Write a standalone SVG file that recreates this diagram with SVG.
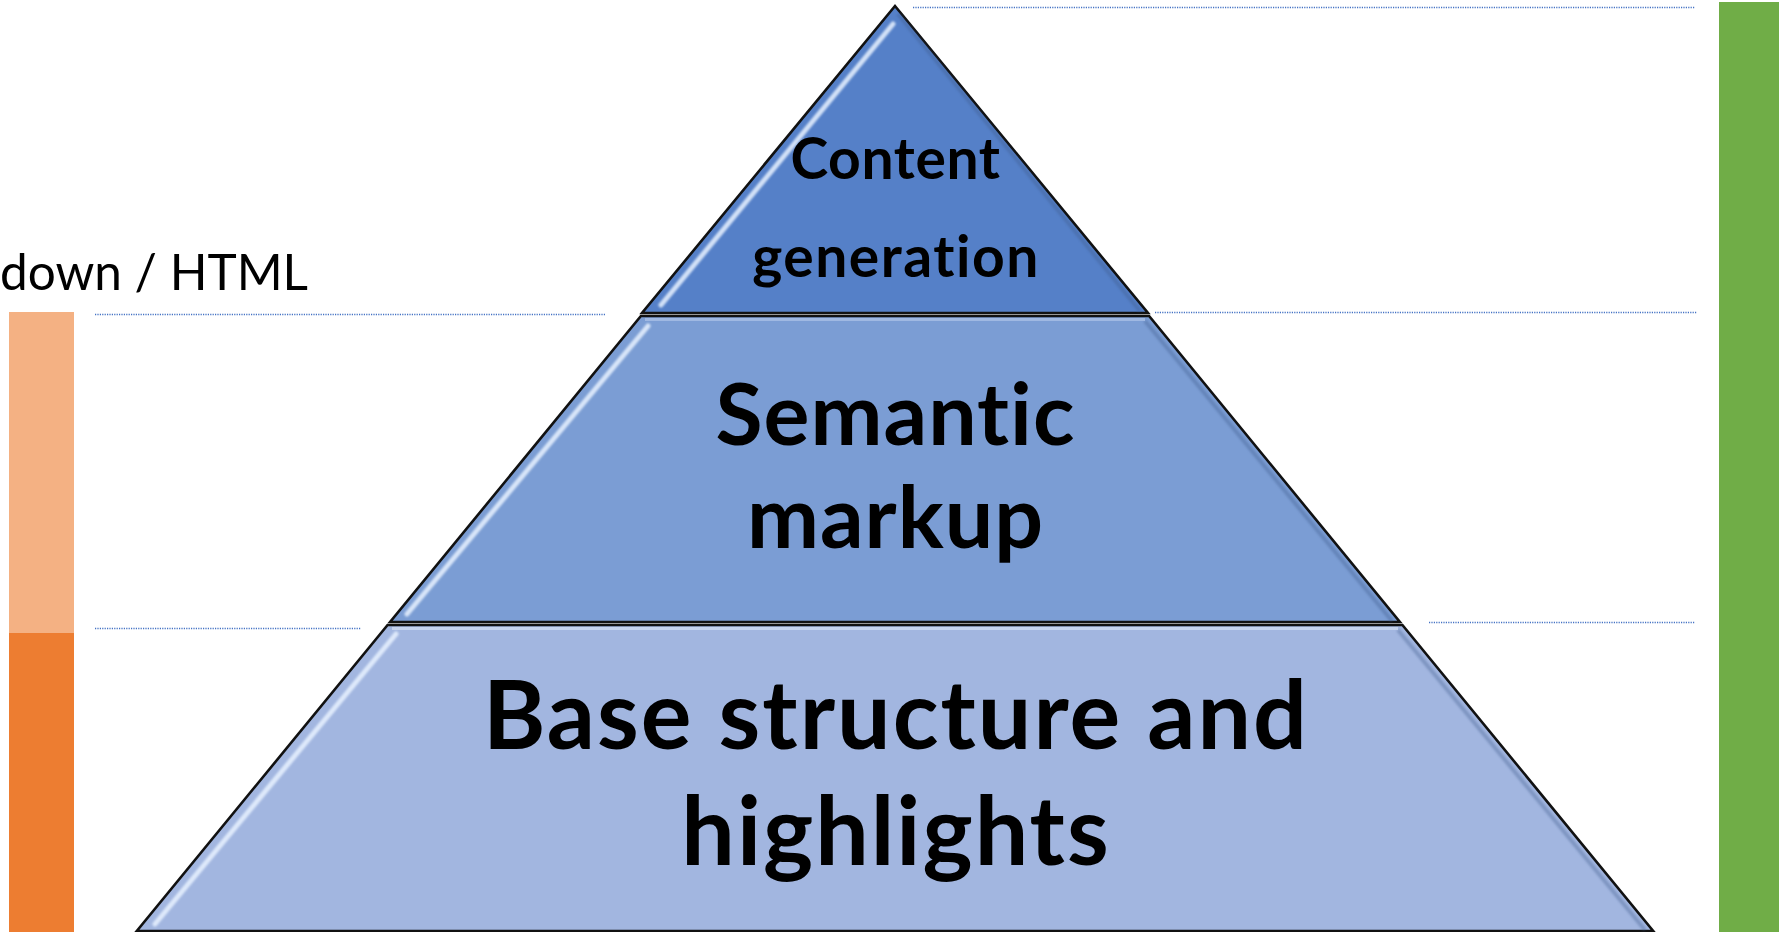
<svg xmlns="http://www.w3.org/2000/svg" width="1779" height="932" viewBox="0 0 1779 932">
<defs>
<filter id="soft" x="-10%" y="-10%" width="120%" height="120%"><feGaussianBlur stdDeviation="0.9"/></filter>
</defs>
<style>
.tier{stroke:#111;stroke-width:2.6;stroke-linejoin:miter}
.hl{stroke:#E8F2FF;stroke-width:5;stroke-linecap:round;fill:none;opacity:0.85;filter:url(#soft)}
.sh{stroke:#3D5A8A;stroke-width:4;fill:none;opacity:0.35;filter:url(#soft)}
.lbl{font-family:Lato,"Open Sans","Liberation Sans",sans-serif;font-weight:bold;fill:#000;text-anchor:middle;font-variant-ligatures:none;font-feature-settings:"liga" 0}
.guide{stroke:#4472C4;stroke-width:1.3;stroke-dasharray:1.2 1.2;fill:none}
</style>
<rect width="1779" height="932" fill="#fff"/>
<g id="side-bars">
<rect x="9" y="312" width="65" height="321" fill="#F4B183"/>
<rect x="9" y="633" width="65" height="299" fill="#ED7D31"/>
<rect x="1719" y="2" width="60" height="930" fill="#70AD47"/>
</g>
<text x="0" y="290" font-family="Lato,'Open Sans','Liberation Sans',sans-serif" font-size="49.5" fill="#000">down / HTML</text>
<g id="connectors">
<line class="guide" x1="913" y1="7.5" x2="1695" y2="7.5"/>
<line class="guide" x1="1155" y1="312.5" x2="1697" y2="312.5"/>
<line class="guide" x1="1429" y1="622.5" x2="1695" y2="622.5"/>
<line class="guide" x1="95" y1="314.5" x2="605" y2="314.5"/>
<line class="guide" x1="95" y1="628.5" x2="361" y2="628.5"/>
</g>
<g id="tier-base">
<polygon class="tier" points="387.6,625 1402.4,625 1653.2,931 136.8,931" fill="#A2B6E0"/>
<line class="sh" x1="1398" y1="630" x2="1645" y2="930"/>
<line x1="392" y1="628.5" x2="1398" y2="628.5" stroke="#C5D3EE" stroke-width="3"/>
<line class="hl" x1="396" y1="634" x2="155" y2="924"/>
<text class="lbl" x="896" y="749" font-size="95" letter-spacing="2">Base structure and</text>
<text class="lbl" x="896" y="865" font-size="95" letter-spacing="2">highlights</text>
</g>
<g id="tier-middle">
<polygon class="tier" points="640.9,316 1149.1,316 1399.9,622 390.1,622" fill="#7B9DD4"/>
<line class="sh" x1="1145" y1="321" x2="1392" y2="621"/>
<line x1="645" y1="319.5" x2="1145" y2="319.5" stroke="#9FB8E2" stroke-width="3"/>
<line class="hl" x1="648" y1="326" x2="407" y2="614"/>
<text class="lbl" x="895.5" y="445" font-size="86" letter-spacing="1">Semantic</text>
<text class="lbl" x="895.5" y="548" font-size="86" letter-spacing="1">markup</text>
</g>
<g id="tier-top">
<polygon class="tier" points="895,6 1148,313 642,313" fill="#5580C8"/>
<line class="sh" x1="898" y1="14" x2="1140" y2="311"/>
<line class="hl" x1="893" y1="24" x2="661" y2="305"/>
<text class="lbl" x="895.5" y="179" font-size="57" letter-spacing="0.6">Content</text>
<text class="lbl" x="896" y="277" font-size="57" letter-spacing="1.5">generation</text>
</g>
</svg>
